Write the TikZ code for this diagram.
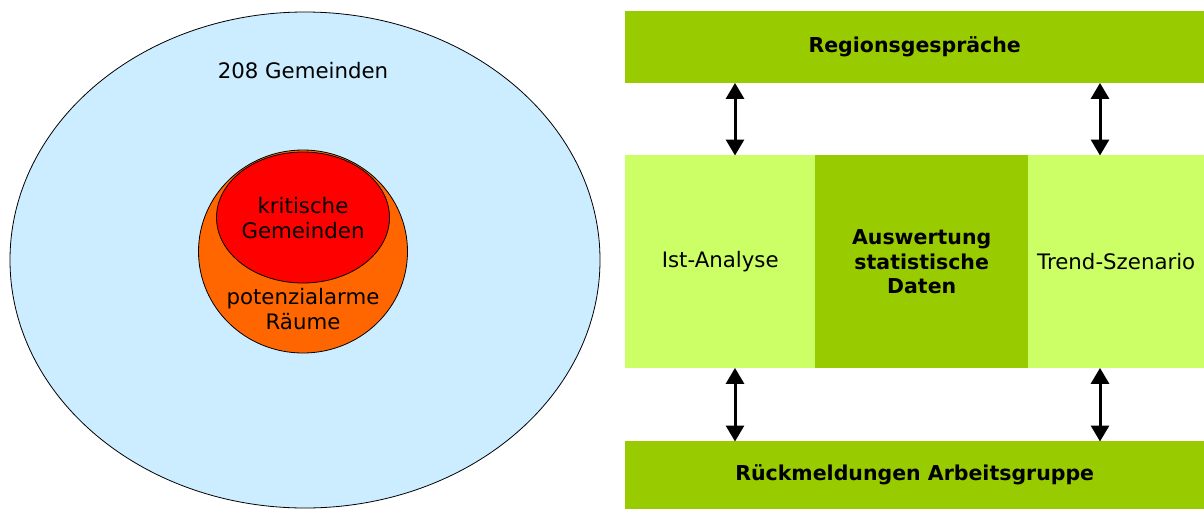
\documentclass[tikz,border=0pt]{standalone}
\usepackage{fontspec}
\setmainfont{DejaVu Sans}
\usepackage{tikz}
\usetikzlibrary{arrows.meta,shapes.geometric}
\definecolor{hellblau}{HTML}{CCECFF}
\definecolor{orangeraum}{HTML}{FF6600}
\definecolor{rotkrit}{HTML}{FF0000}
\definecolor{gruendunkel}{HTML}{99CC00}
\definecolor{gruenhell}{HTML}{CCFF66}
\tikzset{
  kreis/.style={ellipse, draw=black, line width=0.8pt, inner sep=0pt},
  fett/.style={font=\fontsize{20.5}{24.5}\selectfont\bfseries},
  balken/.style={rectangle, fill=gruendunkel, inner sep=0pt, anchor=north west, fett},
  feld/.style={rectangle, inner sep=0pt, anchor=north west, align=center},
  doppelpfeil/.style={line width=3pt, {Triangle[length=16pt,width=18pt]}-{Triangle[length=16pt,width=18pt]}, shorten <=-0.5pt, shorten >=-0.5pt}
}

\begin{document}
\begin{tikzpicture}[x=1pt,y=-1pt,font=\fontsize{21.3}{25.5}\selectfont]
    \useasboundingbox (0,0) rectangle (1204,509);
    % Mengen
    \node[kreis, fill=hellblau, minimum width=590pt, minimum height=496pt] (alle) at (305,260) {};
    \node[kreis, fill=orangeraum, minimum width=209pt, minimum height=203pt] (raeume) at (303,251.5) {};
    \node[kreis, fill=rotkrit, minimum width=173pt, minimum height=131pt] (kritisch) at (303,217.5) {};
    \node (alletxt) at (303,71) {208 Gemeinden};
    \node[align=center] (kritischtxt) at (303,218) {kritische\\Gemeinden};
    \node[align=center] (raeumetxt) at (303,309) {potenzialarme\\Räume};
    % Ablauf
    \node[balken, minimum width=579pt, minimum height=72pt] (regio) at (625,11) {Regionsgespräche};
    \node[feld, fill=gruenhell, minimum width=190pt, minimum height=213pt] (ist) at (625,155) {Ist-Analyse};
    \node[feld, fill=gruendunkel, minimum width=213pt, minimum height=213pt, fett] (auswertung) at (815,155) {Auswertung\\statistische\\Daten};
    \node[feld, fill=gruenhell, minimum width=176pt, minimum height=213pt] (trend) at (1028,155) {Trend-Szenario};
    \node[balken, minimum width=579pt, minimum height=68pt] (rueck) at (625,441) {Rückmeldungen Arbeitsgruppe};
    \coordinate (links) at (735,0);
    \coordinate (rechts) at (1100,0);
    \draw[doppelpfeil] (regio.south -| links) -- (ist.north -| links);
    \draw[doppelpfeil] (regio.south -| rechts) -- (trend.north -| rechts);
    \draw[doppelpfeil] (ist.south -| links) -- (rueck.north -| links);
    \draw[doppelpfeil] (trend.south -| rechts) -- (rueck.north -| rechts);
\end{tikzpicture}
\end{document}
